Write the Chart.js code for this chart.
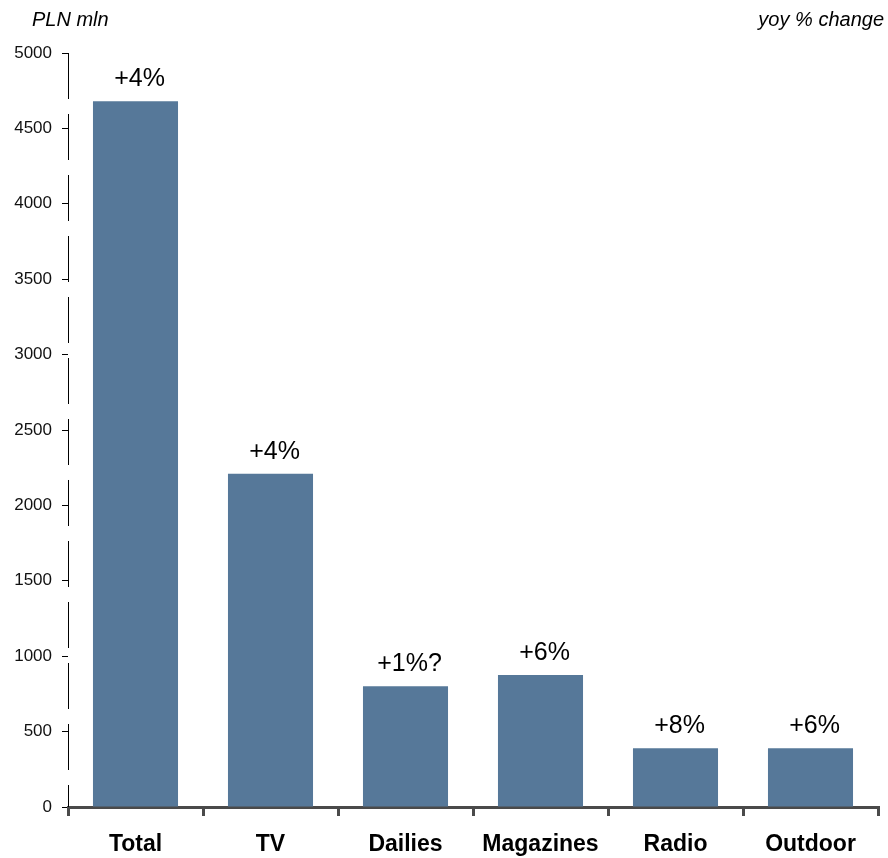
<!DOCTYPE html>
<html>
<head>
<meta charset="utf-8">
<script src="https://cdn.jsdelivr.net/npm/chart.js@4/dist/chart.umd.min.js"></script>
<style>
  html, body { margin: 0; padding: 0; background: #ffffff; }
  #wrap { position: relative; width: 888px; height: 858px; }
</style>
</head>
<body>
<div id="wrap"><canvas id="chart" width="888" height="858"></canvas></div>
<script>
// Advertising spend by medium, PLN mln, with year-on-year change above each bar
const categories = ['Total', 'TV', 'Dailies', 'Magazines', 'Radio', 'Outdoor'];
const spend = [4680, 2210, 800, 875, 390, 390];
const yoyChange = ['+4%', '+4%', '+1%?', '+6%', '+8%', '+6%'];
const unitLabel = 'PLN mln';
const changeLabel = 'yoy % change';

const FONT = '"Liberation Sans", Arial, Helvetica, sans-serif';

// Dashed vertical value axis line
const dashedValueAxis = {
  id: 'dashedValueAxis',
  afterDraw(chart) {
    const ctx = chart.ctx;
    const area = chart.chartArea;
    const x = Math.round(area.left) + 0.5;
    ctx.save();
    ctx.strokeStyle = '#000000';
    ctx.lineWidth = 1;
    ctx.setLineDash([46, 15]);
    ctx.beginPath();
    ctx.moveTo(x, area.top);
    ctx.lineTo(x, area.bottom);
    ctx.stroke();
    ctx.restore();
  }
};

// Writes the yoy change above every bar and the two header captions
const annotations = {
  id: 'annotations',
  afterDatasetsDraw(chart) {
    const ctx = chart.ctx;
    const meta = chart.getDatasetMeta(0);
    ctx.save();
    ctx.fillStyle = '#000000';
    ctx.font = '25px ' + FONT;
    ctx.textAlign = 'center';
    ctx.textBaseline = 'alphabetic';
    meta.data.forEach((bar, i) => {
      ctx.fillText(yoyChange[i], bar.x + 4, bar.y - 15);
    });
    ctx.font = 'italic 20px ' + FONT;
    ctx.textAlign = 'left';
    ctx.fillText(unitLabel, 32, 26);
    ctx.textAlign = 'right';
    ctx.fillText(changeLabel, 884, 26);
    ctx.restore();
  }
};

new Chart(document.getElementById('chart'), {
  type: 'bar',
  data: {
    labels: categories,
    datasets: [{
      data: spend,
      backgroundColor: '#567899',
      borderWidth: 0,
      barPercentage: 0.63,
      categoryPercentage: 1.0
    }]
  },
  options: {
    responsive: false,
    animation: false,
    layout: { padding: { top: 53, right: 10, bottom: 0, left: 0 } },
    plugins: {
      legend: { display: false },
      tooltip: { enabled: false }
    },
    scales: {
      x: {
        offset: true,
        grid: {
          offset: true,
          drawOnChartArea: false,
          drawTicks: true,
          tickLength: 9,
          lineWidth: 3,
          color: '#4a4a4a'
        },
        border: { display: true, color: '#4a4a4a', width: 3 },
        ticks: {
          color: '#000000',
          font: { family: FONT, size: 23, weight: 'bold' },
          padding: 15,
          maxRotation: 0
        },
        afterFit(scale) { scale.height = 51; }
      },
      y: {
        min: 0,
        max: 5000,
        ticks: {
          stepSize: 500,
          color: '#111111',
          font: { family: FONT, size: 17 },
          padding: 10,
          callback: (value) => String(value)
        },
        grid: {
          drawOnChartArea: false,
          drawTicks: true,
          tickLength: 6,
          lineWidth: 1,
          color: '#000000'
        },
        border: { display: false },
        afterFit(scale) { scale.width = 68; }
      }
    }
  },
  plugins: [annotations, dashedValueAxis]
});
</script>
</body>
</html>
